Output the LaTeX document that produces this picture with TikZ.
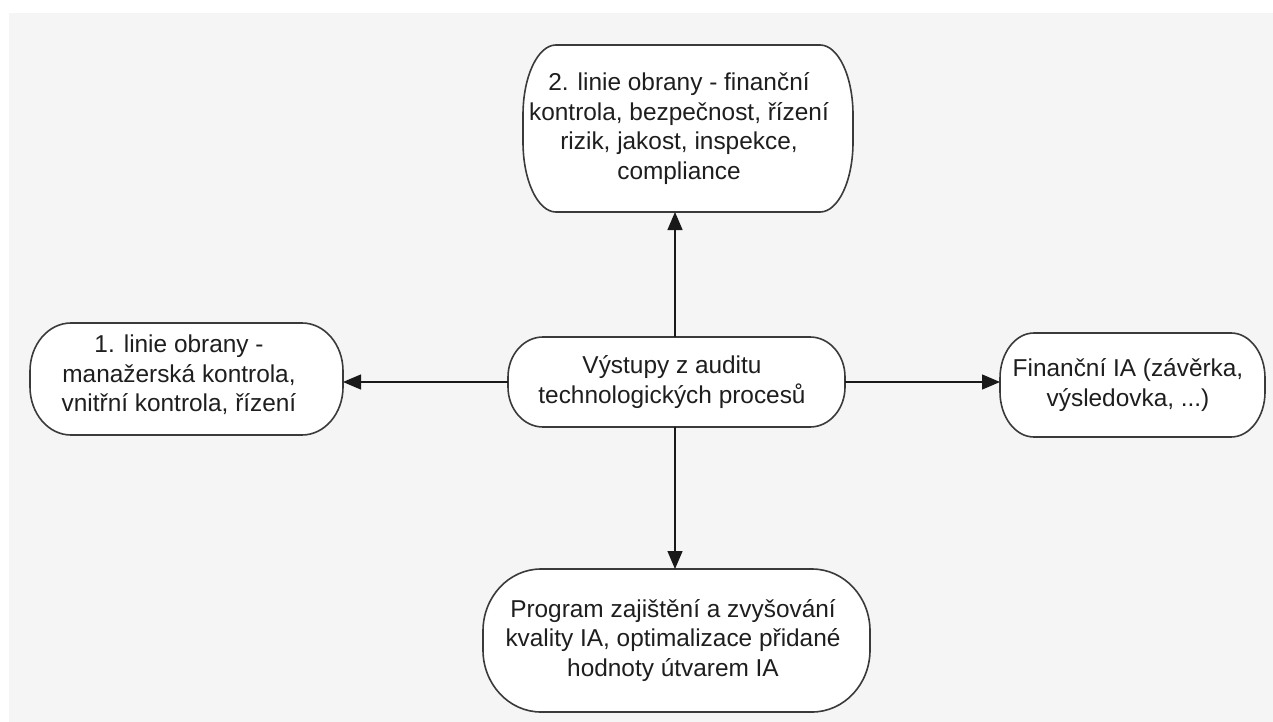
\documentclass[tikz,border=0pt]{standalone}
\usepackage{fontspec}
\setmainfont{Liberation Sans}
\usetikzlibrary{arrows.meta}
\pgfdeclarelayer{bglayer}
\pgfdeclarelayer{shplayer}
\pgfsetlayers{bglayer,shplayer,main}
\definecolor{pagegray}{HTML}{F5F5F5}
\definecolor{bordercol}{HTML}{3A3A3A}
\definecolor{txtcol}{HTML}{1E1E1E}
\tikzset{
  box/.style={inner sep=0pt, outer sep=0pt},
  txt/.style={inner sep=0pt, align=center, text=txtcol,
    font=\fontsize{24.4}{29.5}\selectfont},
  capsule/.style={fill=white, draw=bordercol, line width=1.6pt},
  conn/.style={draw=black!90, line width=1.3pt,
    -{Triangle[length=18pt,width=15pt]}},
}
\newcommand\capsuleshape[3]{%
  \path[capsule] ([xshift=#2]#1.north west) -- ([xshift=-#2]#1.north east)
    arc[start angle=90,end angle=0,x radius=#2,y radius=#3]
    -- ([yshift=#3]#1.south east)
    arc[start angle=0,end angle=-90,x radius=#2,y radius=#3]
    -- ([xshift=#2]#1.south west)
    arc[start angle=270,end angle=180,x radius=#2,y radius=#3]
    -- ([yshift=-#3]#1.north west)
    arc[start angle=180,end angle=90,x radius=#2,y radius=#3] -- cycle;}
\begin{document}
\begin{tikzpicture}[x=1pt,y=1pt]
\useasboundingbox (0,0) rectangle (1273,-722);
\begin{pgfonlayer}{bglayer}
  \fill[pagegray] (9,-13) rectangle (1273,-722);
\end{pgfonlayer}

% shape boxes
\node[box, minimum width=330pt, minimum height=167pt] (t) at (688,-128.5) {};
\node[box, minimum width=337pt, minimum height=90pt]  (c) at (676.5,-382) {};
\node[box, minimum width=313pt, minimum height=112pt] (l) at (186.5,-379) {};
\node[box, minimum width=265pt, minimum height=104pt] (r) at (1132.5,-385) {};
\node[box, minimum width=387pt, minimum height=143pt] (b) at (676.5,-640.5) {};

\begin{pgfonlayer}{shplayer}
  \capsuleshape{t}{33pt}{70pt}
  \capsuleshape{c}{35pt}{40pt}
  \capsuleshape{l}{41pt}{48pt}
  \capsuleshape{r}{34pt}{45pt}
  \capsuleshape{b}{58pt}{62pt}
\end{pgfonlayer}

% texts
\node[txt] (t-txt) at ([xshift=-9pt]t.center) {2. linie obrany - finanční\\kontrola, bezpečnost, řízení\\rizik, jakost, inspekce,\\compliance};
\node[txt] (c-txt) at ([xshift=-4.5pt]c.center) {Výstupy z auditu\\technologických procesů};
\node[txt] (l-txt) at ([xshift=-7.5pt,yshift=4pt]l.center) {1. linie obrany -\\manažerská kontrola,\\vnitřní kontrola, řízení};
\node[txt] (r-txt) at ([xshift=-4.5pt]r.center) {Finanční IA (závěrka,\\výsledovka, ...)};
\node[txt] (b-txt) at ([xshift=-3.5pt]b.center) {Program zajištění a zvyšování\\kvality IA, optimalizace přidané\\hodnoty útvarem IA};

% connectors
\draw[conn] ([xshift=-1.5pt]c.north) -- ([xshift=-1.5pt]c.north |- t.south);
\draw[conn] ([xshift=-1.5pt]c.south) -- ([xshift=-1.5pt]c.south |- b.north);
\draw[conn] (c.west) -- (c.west -| l.east);
\draw[conn] (c.east) -- (c.east -| r.west);
\end{tikzpicture}
\end{document}
